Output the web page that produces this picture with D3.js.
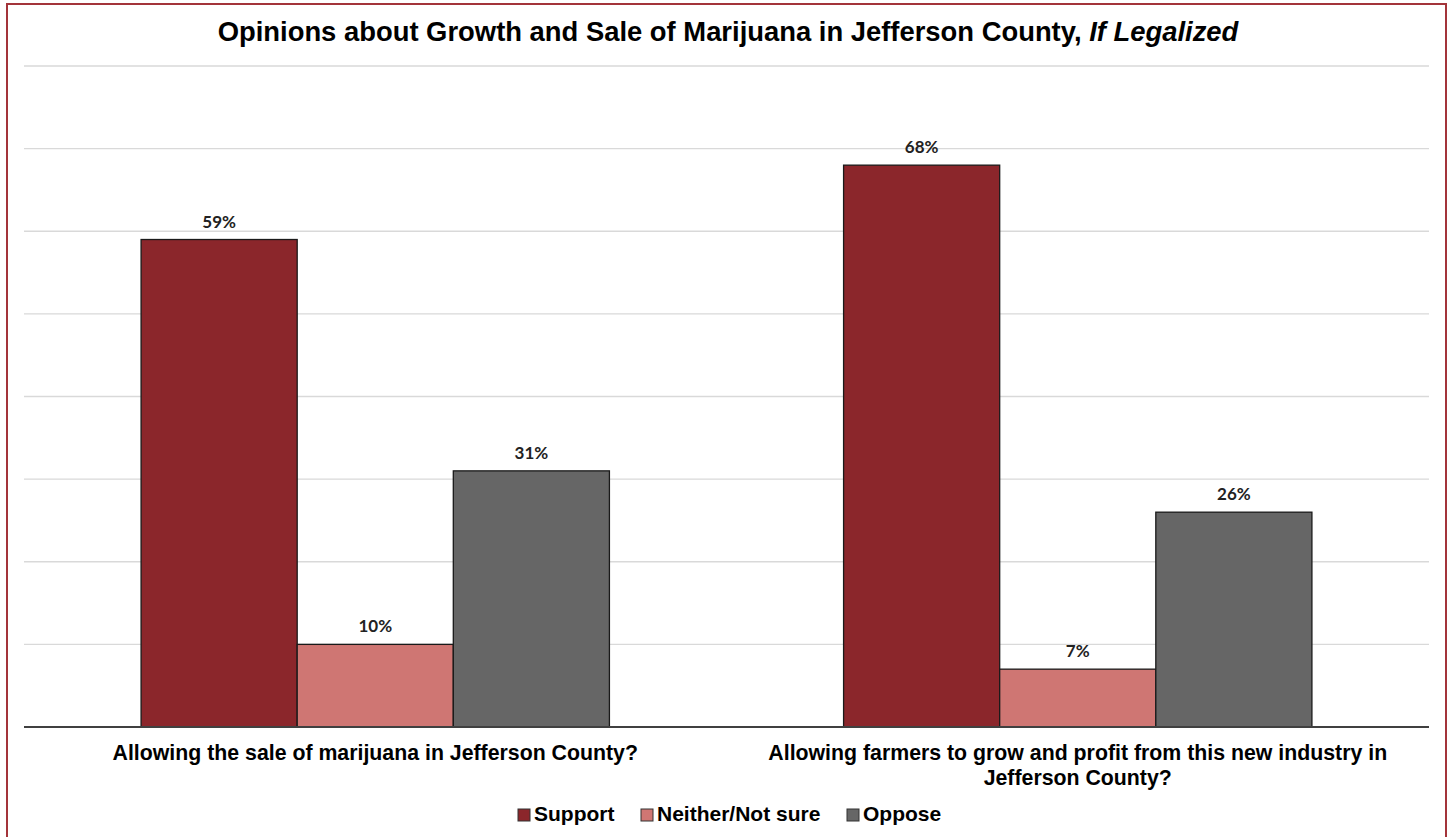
<!DOCTYPE html>
<html>
<head>
<meta charset="utf-8">
<script src="https://cdn.jsdelivr.net/npm/d3@7"></script>
<style>
  html, body { margin: 0; padding: 0; background: #fff; }
  svg { display: block; }
</style>
</head>
<body>
<svg id="chart" width="1448" height="837"></svg>
<script>
// Survey questions (categories) and response series
const categories = [
  "Allowing the sale of marijuana in Jefferson County?",
  "Allowing farmers to grow and profit from this new industry in Jefferson County?"
];
const seriesNames = ["Support", "Neither/Not sure", "Oppose"];
const support = [59, 68];
const neither = [10, 7];
const oppose = [31, 26];
const gridTicks = [0, 10, 20, 30, 40, 50, 60, 70, 80];

const seriesValues = [support, neither, oppose];
const colors = ["#8B262B", "#CF7673", "#666666"];

const svg = d3.select("#chart");
const plot = { left: 24, right: 1429, top: 66, bottom: 727 };
const arial = "'Liberation Sans', Arial, sans-serif";

// Outer frame
svg.append("rect")
  .attr("x", 7).attr("y", 4)
  .attr("width", 1439).attr("height", 845)
  .attr("fill", "#fff")
  .attr("stroke", "#A3343A").attr("stroke-width", 2);

// Title
const title = svg.append("text")
  .attr("x", 728).attr("y", 41)
  .attr("text-anchor", "middle")
  .attr("font-family", arial)
  .attr("font-weight", "bold")
  .attr("font-size", 27.4)
  .attr("fill", "#000");
title.append("tspan").text("Opinions about Growth and Sale of Marijuana in Jefferson County, ");
title.append("tspan").attr("font-style", "italic").text("If Legalized");

// Scales
const y = d3.scaleLinear().domain([0, 80]).range([plot.bottom, plot.top]);
const x0 = d3.scaleBand().domain(categories).range([plot.left, plot.right]);
const bw = x0.bandwidth();
const x1 = d3.scaleBand().domain(seriesNames).range([bw / 6, bw * 5 / 6]);

// Gridlines
svg.append("g")
  .selectAll("line")
  .data(gridTicks.filter(t => t > 0))
  .join("line")
  .attr("x1", plot.left).attr("x2", plot.right)
  .attr("y1", d => y(d)).attr("y2", d => y(d))
  .attr("stroke", "#D9D9D9").attr("stroke-width", 1.3);

// Bars
const rows = [];
categories.forEach((c, i) => {
  seriesNames.forEach((s, j) => {
    rows.push({ cat: c, series: s, value: seriesValues[j][i], color: colors[j] });
  });
});

svg.append("g")
  .selectAll("rect")
  .data(rows)
  .join("rect")
  .attr("x", d => x0(d.cat) + x1(d.series))
  .attr("y", d => y(d.value))
  .attr("width", x1.bandwidth())
  .attr("height", d => y(0) - y(d.value))
  .attr("fill", d => d.color)
  .attr("stroke", "#1a1a1a").attr("stroke-width", 1.3);

// Value labels
svg.append("g")
  .selectAll("text")
  .data(rows)
  .join("text")
  .attr("x", d => x0(d.cat) + x1(d.series) + x1.bandwidth() / 2)
  .attr("y", d => y(d.value) - 12)
  .attr("text-anchor", "middle")
  .attr("font-family", "Lato, 'Open Sans', sans-serif")
  .attr("font-weight", "bold")
  .attr("font-size", 17)
  .attr("fill", "#222")
  .text(d => d.value + "%");

// Baseline axis
const xAxis = d3.axisBottom(x0).tickSize(0).tickFormat("");
const axisG = svg.append("g")
  .attr("transform", `translate(0,${plot.bottom})`)
  .call(xAxis);
axisG.select(".domain").attr("stroke", "#404040").attr("stroke-width", 2)
  .attr("d", `M${plot.left},0H${plot.right}`);

// Category labels, wrapped to fit the band
function wrapLines(text, maxWidth, measure) {
  const words = text.split(" ");
  const lines = [];
  let line = "";
  words.forEach(w => {
    const test = line ? line + " " + w : w;
    if (measure(test) > maxWidth && line) { lines.push(line); line = w; }
    else line = test;
  });
  if (line) lines.push(line);
  return lines;
}
const catFont = 21.3;
const measurer = svg.append("text")
  .attr("font-family", arial)
  .attr("font-weight", "bold").attr("font-size", catFont)
  .attr("visibility", "hidden");
const measure = s => { measurer.text(s); return measurer.node().getComputedTextLength(); };

categories.forEach(c => {
  const lines = wrapLines(c, 660, measure);
  const t = svg.append("text")
    .attr("text-anchor", "middle")
    .attr("font-family", arial)
    .attr("font-weight", "bold").attr("font-size", catFont)
    .attr("fill", "#000");
  lines.forEach((ln, k) => {
    t.append("tspan")
      .attr("x", x0(c) + bw / 2)
      .attr("y", 760 + k * 25)
      .text(ln);
  });
});
measurer.remove();

// Legend
const legendX = [518, 641, 847];
const legend = svg.append("g");
seriesNames.forEach((s, j) => {
  legend.append("rect")
    .attr("x", legendX[j]).attr("y", 809)
    .attr("width", 12).attr("height", 12)
    .attr("fill", colors[j])
    .attr("stroke", "#333").attr("stroke-width", 1);
  legend.append("text")
    .attr("x", legendX[j] + 16).attr("y", 821)
    .attr("font-family", arial)
    .attr("font-weight", "bold").attr("font-size", 21)
    .attr("fill", "#000")
    .text(s);
});
</script>
</body>
</html>
